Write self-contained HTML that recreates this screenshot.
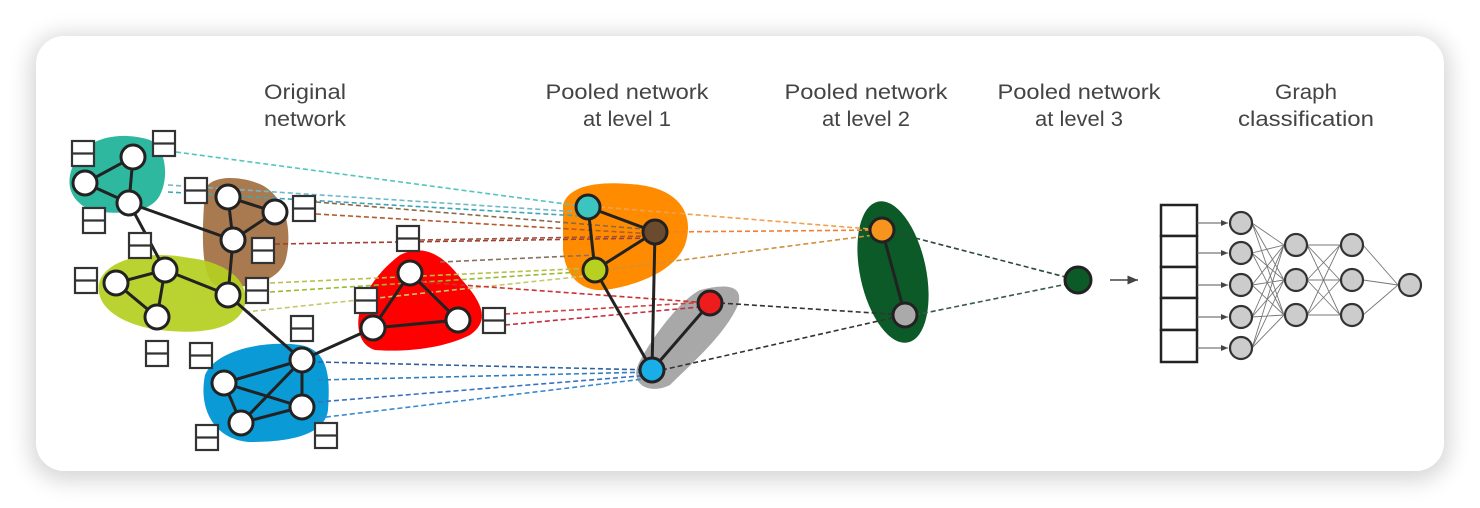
<!DOCTYPE html>
<html><head><meta charset="utf-8"><style>
html,body{margin:0;padding:0;background:#fff;width:1480px;height:508px;overflow:hidden}
.card{position:absolute;left:36px;top:36px;width:1408px;height:435px;border-radius:28px;background:#fff;box-shadow:0 4px 22px 6px rgba(0,0,0,0.16)}
svg{position:absolute;left:0;top:0}
</style></head><body>
<div class="card"></div>
<svg width="1480" height="508" viewBox="0 0 1480 508" font-family="Liberation Sans, sans-serif">
<defs>
<marker id="ar" markerWidth="8" markerHeight="8" refX="7" refY="4" orient="auto"><path d="M0,1 L7,4 L0,7z" fill="#444"/></marker>
</defs>
<g fill="#444" font-size="21" text-anchor="middle">
<text x="305" y="99" textLength="82" lengthAdjust="spacingAndGlyphs">Original</text>
<text x="305" y="126" textLength="82" lengthAdjust="spacingAndGlyphs">network</text>
<text x="627" y="99" textLength="163" lengthAdjust="spacingAndGlyphs">Pooled network</text>
<text x="627" y="126" textLength="88" lengthAdjust="spacingAndGlyphs">at level 1</text>
<text x="866" y="99" textLength="163" lengthAdjust="spacingAndGlyphs">Pooled network</text>
<text x="866" y="126" textLength="88" lengthAdjust="spacingAndGlyphs">at level 2</text>
<text x="1079" y="99" textLength="163" lengthAdjust="spacingAndGlyphs">Pooled network</text>
<text x="1079" y="126" textLength="88" lengthAdjust="spacingAndGlyphs">at level 3</text>
<text x="1306" y="99" textLength="62" lengthAdjust="spacingAndGlyphs">Graph</text>
<text x="1306" y="126" textLength="136" lengthAdjust="spacingAndGlyphs">classification</text>
</g>
<!-- blobs -->
<path d="M72,168 C80,138 120,130 150,140 C168,150 168,180 160,195 C150,215 115,215 90,210 C70,200 66,185 72,168z" fill="#2fb8a0"/>
<path d="M205,190 C210,175 240,175 262,185 C290,200 292,240 285,262 C275,285 240,290 215,285 C200,275 202,230 205,190z" fill="#a97a4f"/>
<path d="M100,280 C110,258 150,250 190,258 C225,262 250,280 245,305 C238,330 200,335 160,330 C120,325 92,305 100,280z" fill="#b5cf1f" opacity="0.92"/>
<path d="M360,310 C365,290 380,270 400,255 C420,245 440,250 462,280 C480,300 492,320 470,335 C440,350 400,352 375,350 C358,345 356,325 360,310z" fill="#ff0000"/>
<path d="M205,375 C215,350 265,340 300,345 C330,350 330,380 328,410 C325,435 290,442 250,442 C215,440 198,410 205,375z" fill="#0a9ad6"/>
<path d="M563,205 C568,185 600,180 640,185 C680,190 695,215 685,245 C675,270 640,285 605,290 C580,292 565,275 563,250z" fill="#ff8c00"/>
<path d="M700,290 C720,285 745,282 738,305 C725,335 690,365 670,385 C650,395 630,385 638,365 C650,340 680,300 700,290z" fill="#999" opacity="0.85"/>
<ellipse cx="893" cy="272" rx="33" ry="72" transform="rotate(-12 893 272)" fill="#0b5a28"/>
<!-- dashed lines -->
<g fill="none" stroke-width="1.6" stroke-dasharray="5,3">
<path d="M176,152 L588,207" stroke="#53c4c0"/>
<path d="M168,185 L580,212" stroke="#6fb9c8"/>
<path d="M168,192 L580,216" stroke="#3aa6b6"/>
<path d="M316,202 L655,230" stroke="#8a6a4a"/>
<path d="M316,214 L655,234" stroke="#b35a2a"/>
<path d="M275,244 L655,238" stroke="#a04030"/>
<path d="M270,283 L595,268" stroke="#b8c04a"/>
<path d="M270,292 L595,271" stroke="#9aba30"/>
<path d="M245,312 L595,275" stroke="#c6c870"/>
<path d="M420,240 L650,236" stroke="#a05040"/>
<path d="M440,262 L595,255" stroke="#8a7060"/>
<path d="M420,282 L710,303" stroke="#d03030"/>
<path d="M505,314 L710,302" stroke="#d04040"/>
<path d="M505,325 L710,306" stroke="#c03040"/>
<path d="M318,362 L652,370" stroke="#3060a0"/>
<path d="M318,380 L652,372" stroke="#2f7fc0"/>
<path d="M318,402 L652,375" stroke="#3a70c0"/>
<path d="M318,418 L652,378" stroke="#3a8ad0"/>
<path d="M600,207 L882,230" stroke="#f0a050"/>
<path d="M665,232 L882,230" stroke="#f08030"/>
<path d="M605,270 L882,234" stroke="#d09040"/>
<path d="M720,303 L905,315" stroke="#333"/>
<path d="M662,370 L905,315" stroke="#333"/>
<path d="M892,232 L1077,280" stroke="#2a4a3a"/>
<path d="M915,315 L1077,282" stroke="#3a5a4a"/>
</g>
<!-- solid edges -->
<g stroke="#222" stroke-width="3" fill="none">
<path d="M133,157 L85,183 L129,203 L133,157 M129,203 L233,240 L228,197 L275,212 L233,240 L228,295 L165,270 L116,283 L157,317 L165,270 M129,203 L165,270 M228,295 L302,360 L373,328 L410,273 L458,320 L373,328 M302,360 L224,383 L241,423 L302,407 L302,360 L241,423 M224,383 L302,407"/>
<path d="M588,207 L655,232 L595,270 L588,207 M595,270 L652,370 L655,232 M652,370 L710,303 M882,230 L905,315"/>
</g>
<g fill="#fff" stroke="#222" stroke-width="3">
<circle cx="133" cy="157" r="12"/><circle cx="85" cy="183" r="12"/><circle cx="129" cy="203" r="12"/>
<circle cx="228" cy="197" r="12"/><circle cx="275" cy="212" r="12"/><circle cx="233" cy="240" r="12"/>
<circle cx="165" cy="270" r="12"/><circle cx="116" cy="283" r="12"/><circle cx="157" cy="317" r="12"/><circle cx="228" cy="295" r="12"/>
<circle cx="410" cy="273" r="12"/><circle cx="373" cy="328" r="12"/><circle cx="458" cy="320" r="12"/>
<circle cx="302" cy="360" r="12"/><circle cx="224" cy="383" r="12"/><circle cx="302" cy="407" r="12"/><circle cx="241" cy="423" r="12"/>
<circle cx="588" cy="207" r="12" fill="#3cc4c0"/><circle cx="655" cy="232" r="12" fill="#6b4a2e"/><circle cx="595" cy="270" r="12" fill="#b8d020"/>
<circle cx="710" cy="303" r="12" fill="#ee1c1c"/><circle cx="652" cy="370" r="12" fill="#1aaee8"/>
<circle cx="882" cy="230" r="12" fill="#f7941d"/><circle cx="905" cy="315" r="12" fill="#aaa"/>
<circle cx="1078" cy="280" r="13" fill="#0b5a28"/>
</g>
<!-- feature boxes -->
<g fill="#fff" stroke="#333" stroke-width="2.2">
<g id="bx"></g>
<rect x="153" y="131" width="22" height="25"/><line x1="153" y1="143.5" x2="175" y2="143.5"/>
<rect x="72" y="141" width="22" height="25"/><line x1="72" y1="153.5" x2="94" y2="153.5"/>
<rect x="83" y="208" width="22" height="25"/><line x1="83" y1="220.5" x2="105" y2="220.5"/>
<rect x="185" y="178" width="22" height="25"/><line x1="185" y1="190.5" x2="207" y2="190.5"/>
<rect x="293" y="196" width="22" height="25"/><line x1="293" y1="208.5" x2="315" y2="208.5"/>
<rect x="252" y="238" width="22" height="25"/><line x1="252" y1="250.5" x2="274" y2="250.5"/>
<rect x="129" y="233" width="22" height="25"/><line x1="129" y1="245.5" x2="151" y2="245.5"/>
<rect x="75" y="268" width="22" height="25"/><line x1="75" y1="280.5" x2="97" y2="280.5"/>
<rect x="146" y="341" width="22" height="25"/><line x1="146" y1="353.5" x2="168" y2="353.5"/>
<rect x="246" y="278" width="22" height="25"/><line x1="246" y1="290.5" x2="268" y2="290.5"/>
<rect x="397" y="226" width="22" height="25"/><line x1="397" y1="238.5" x2="419" y2="238.5"/>
<rect x="355" y="288" width="22" height="25"/><line x1="355" y1="300.5" x2="377" y2="300.5"/>
<rect x="483" y="308" width="22" height="25"/><line x1="483" y1="320.5" x2="505" y2="320.5"/>
<rect x="291" y="316" width="22" height="25"/><line x1="291" y1="328.5" x2="313" y2="328.5"/>
<rect x="190" y="343" width="22" height="25"/><line x1="190" y1="355.5" x2="212" y2="355.5"/>
<rect x="196" y="425" width="22" height="25"/><line x1="196" y1="437.5" x2="218" y2="437.5"/>
<rect x="315" y="423" width="22" height="25"/><line x1="315" y1="435.5" x2="337" y2="435.5"/>
</g>
<!-- classifier -->
<line x1="1110" y1="280" x2="1138" y2="280" stroke="#444" stroke-width="1.5" marker-end="url(#ar)"/>
<g fill="#fff" stroke="#222" stroke-width="2.5">
<rect x="1161" y="205" width="36" height="31"/><rect x="1161" y="236" width="36" height="31"/><rect x="1161" y="267" width="36" height="31"/><rect x="1161" y="298" width="36" height="32"/><rect x="1161" y="330" width="36" height="32"/>
</g>
<g stroke="#555" stroke-width="1" marker-end="url(#ar)">
<line x1="1197" y1="223" x2="1228" y2="223"/><line x1="1197" y1="253" x2="1228" y2="253"/><line x1="1197" y1="285" x2="1228" y2="285"/><line x1="1197" y1="317" x2="1228" y2="317"/><line x1="1197" y1="348" x2="1228" y2="348"/>
</g>
<g stroke="#777" stroke-width="0.9">
<path d="M1252,223L1284,245M1252,223L1284,280M1252,223L1284,315M1252,253L1284,245M1252,253L1284,280M1252,253L1284,315M1252,285L1284,245M1252,285L1284,280M1252,285L1284,315M1252,317L1284,245M1252,317L1284,280M1252,317L1284,315M1252,348L1284,245M1252,348L1284,280M1252,348L1284,315"/>
<path d="M1307,245L1340,245M1307,245L1340,280M1307,245L1340,315M1307,280L1340,245M1307,280L1340,280M1307,280L1340,315M1307,315L1340,245M1307,315L1340,280M1307,315L1340,315"/>
<path d="M1363,245L1398,285M1363,280L1398,285M1363,315L1398,285"/>
</g>
<g fill="#ccc" stroke="#333" stroke-width="2.2">
<circle cx="1241" cy="223" r="11"/><circle cx="1241" cy="253" r="11"/><circle cx="1241" cy="285" r="11"/><circle cx="1241" cy="317" r="11"/><circle cx="1241" cy="348" r="11"/>
<circle cx="1296" cy="245" r="11"/><circle cx="1296" cy="280" r="11"/><circle cx="1296" cy="315" r="11"/>
<circle cx="1352" cy="245" r="11"/><circle cx="1352" cy="280" r="11"/><circle cx="1352" cy="315" r="11"/>
<circle cx="1410" cy="285" r="11"/>
</g>
</svg>
</body></html>
